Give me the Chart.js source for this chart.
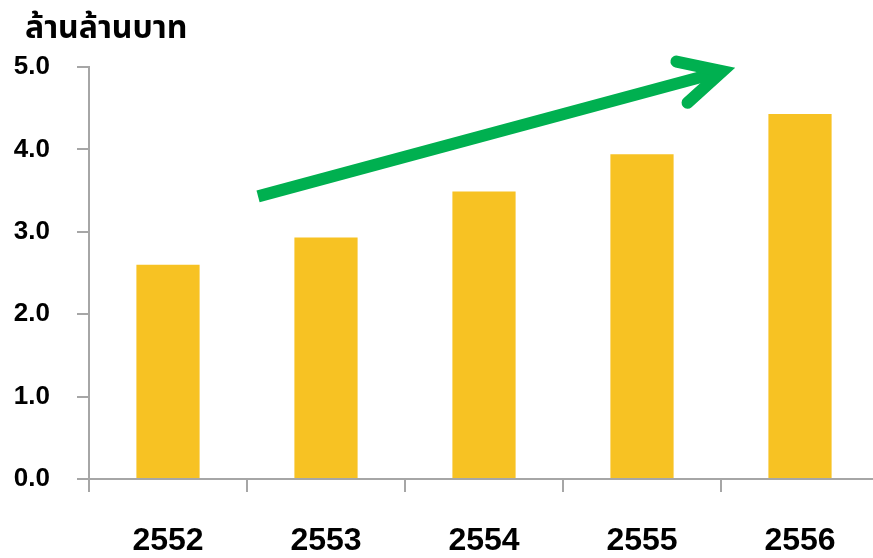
<!DOCTYPE html>
<html>
<head>
<meta charset="utf-8">
<script src="https://cdn.jsdelivr.net/npm/chart.js@4.4.1/dist/chart.umd.min.js"></script>
<style>
  html, body { margin: 0; padding: 0; background: #ffffff; overflow: hidden; }
  #wrap { width: 880px; height: 558px; }
</style>
</head>
<body>
<div id="wrap"><canvas id="c" width="880" height="558"></canvas></div>
<script>
// ---- data ----
const categories = ['2552', '2553', '2554', '2555', '2556'];
const values = [2.60, 2.93, 3.49, 3.94, 4.43];
const yTicks = [0, 1, 2, 3, 4, 5];
const unitLabel = 'ล้านล้านบาท';
// trend arrow, in data coordinates [category index, value]
const arrowStart = [0.57, 3.43];
const arrowEnd = [3.59, 4.99];

const FONT = '"Liberation Sans", Arial, Helvetica, sans-serif';
const AXIS_COLOR = '#a6a6a6';

const titlePlugin = {
  id: 'unitTitle',
  afterDraw(chart) {
    const ctx = chart.ctx;
    ctx.save();
    ctx.fillStyle = '#000';
    ctx.font = 'bold 32px "Noto Sans Thai", "Leelawadee UI", Tahoma, "DejaVu Sans", sans-serif';
    ctx.textAlign = 'left';
    ctx.textBaseline = 'alphabetic';
    ctx.fillText(unitLabel, 25, 38);
    ctx.restore();
  }
};

const arrowPlugin = {
  id: 'trendArrow',
  afterDatasetsDraw(chart) {
    const xs = chart.scales.x, ys = chart.scales.y;
    const x0 = xs.getPixelForValue(arrowStart[0]), y0 = ys.getPixelForValue(arrowStart[1]);
    const x1 = xs.getPixelForValue(arrowEnd[0]), y1 = ys.getPixelForValue(arrowEnd[1]);
    const ang = Math.atan2(y1 - y0, x1 - x0);
    const w = 12;
    const half = 27 * Math.PI / 180;
    const miter = (w / 2) / Math.sin(half);
    const vx = x1 - Math.cos(ang) * miter, vy = y1 - Math.sin(ang) * miter;
    const arm = 47;
    const ctx = chart.ctx;
    ctx.save();
    ctx.strokeStyle = '#00B050';
    ctx.lineWidth = w;
    ctx.lineCap = 'butt';
    ctx.beginPath();
    ctx.moveTo(x0, y0);
    ctx.lineTo(vx, vy);
    ctx.stroke();
    ctx.lineCap = 'round';
    ctx.lineJoin = 'miter';
    ctx.miterLimit = 10;
    ctx.beginPath();
    ctx.moveTo(vx - Math.cos(ang - half) * arm, vy - Math.sin(ang - half) * arm);
    ctx.lineTo(vx, vy);
    ctx.lineTo(vx - Math.cos(ang + half) * arm, vy - Math.sin(ang + half) * arm);
    ctx.stroke();
    ctx.restore();
  }
};

new Chart(document.getElementById('c'), {
  type: 'bar',
  data: {
    labels: categories,
    datasets: [{
      data: values,
      backgroundColor: '#F7C223',
      borderWidth: 0,
      barPercentage: 0.8,
      categoryPercentage: 0.5
    }]
  },
  options: {
    responsive: false,
    devicePixelRatio: 1,
    animation: false,
    layout: { padding: { top: 67, right: 1, left: 0, bottom: 0 } },
    plugins: { legend: { display: false }, tooltip: { enabled: false }, title: { display: false } },
    scales: {
      x: {
        grid: { display: true, drawOnChartArea: false, drawTicks: true, tickLength: 13, color: AXIS_COLOR, lineWidth: 2, offset: true },
        border: { display: true, color: AXIS_COLOR, width: 2 },
        ticks: { color: '#000', font: { family: FONT, size: 32, weight: 'bold' }, padding: 30, maxRotation: 0 },
        afterFit(scale) { scale.height = 79; }
      },
      y: {
        min: 0, max: 5,
        afterBuildTicks(scale) { scale.ticks = yTicks.map(v => ({ value: v })); },
        grid: { display: true, drawOnChartArea: false, drawTicks: true, tickLength: 12, color: AXIS_COLOR, lineWidth: 2 },
        border: { display: true, color: AXIS_COLOR, width: 2 },
        ticks: { color: '#000', font: { family: FONT, size: 26, weight: 'bold' }, padding: 27,
                  callback: v => Number(v).toFixed(1) },
        afterFit(scale) { scale.width = 89; }
      }
    }
  },
  plugins: [titlePlugin, arrowPlugin]
});
</script>
</body>
</html>
